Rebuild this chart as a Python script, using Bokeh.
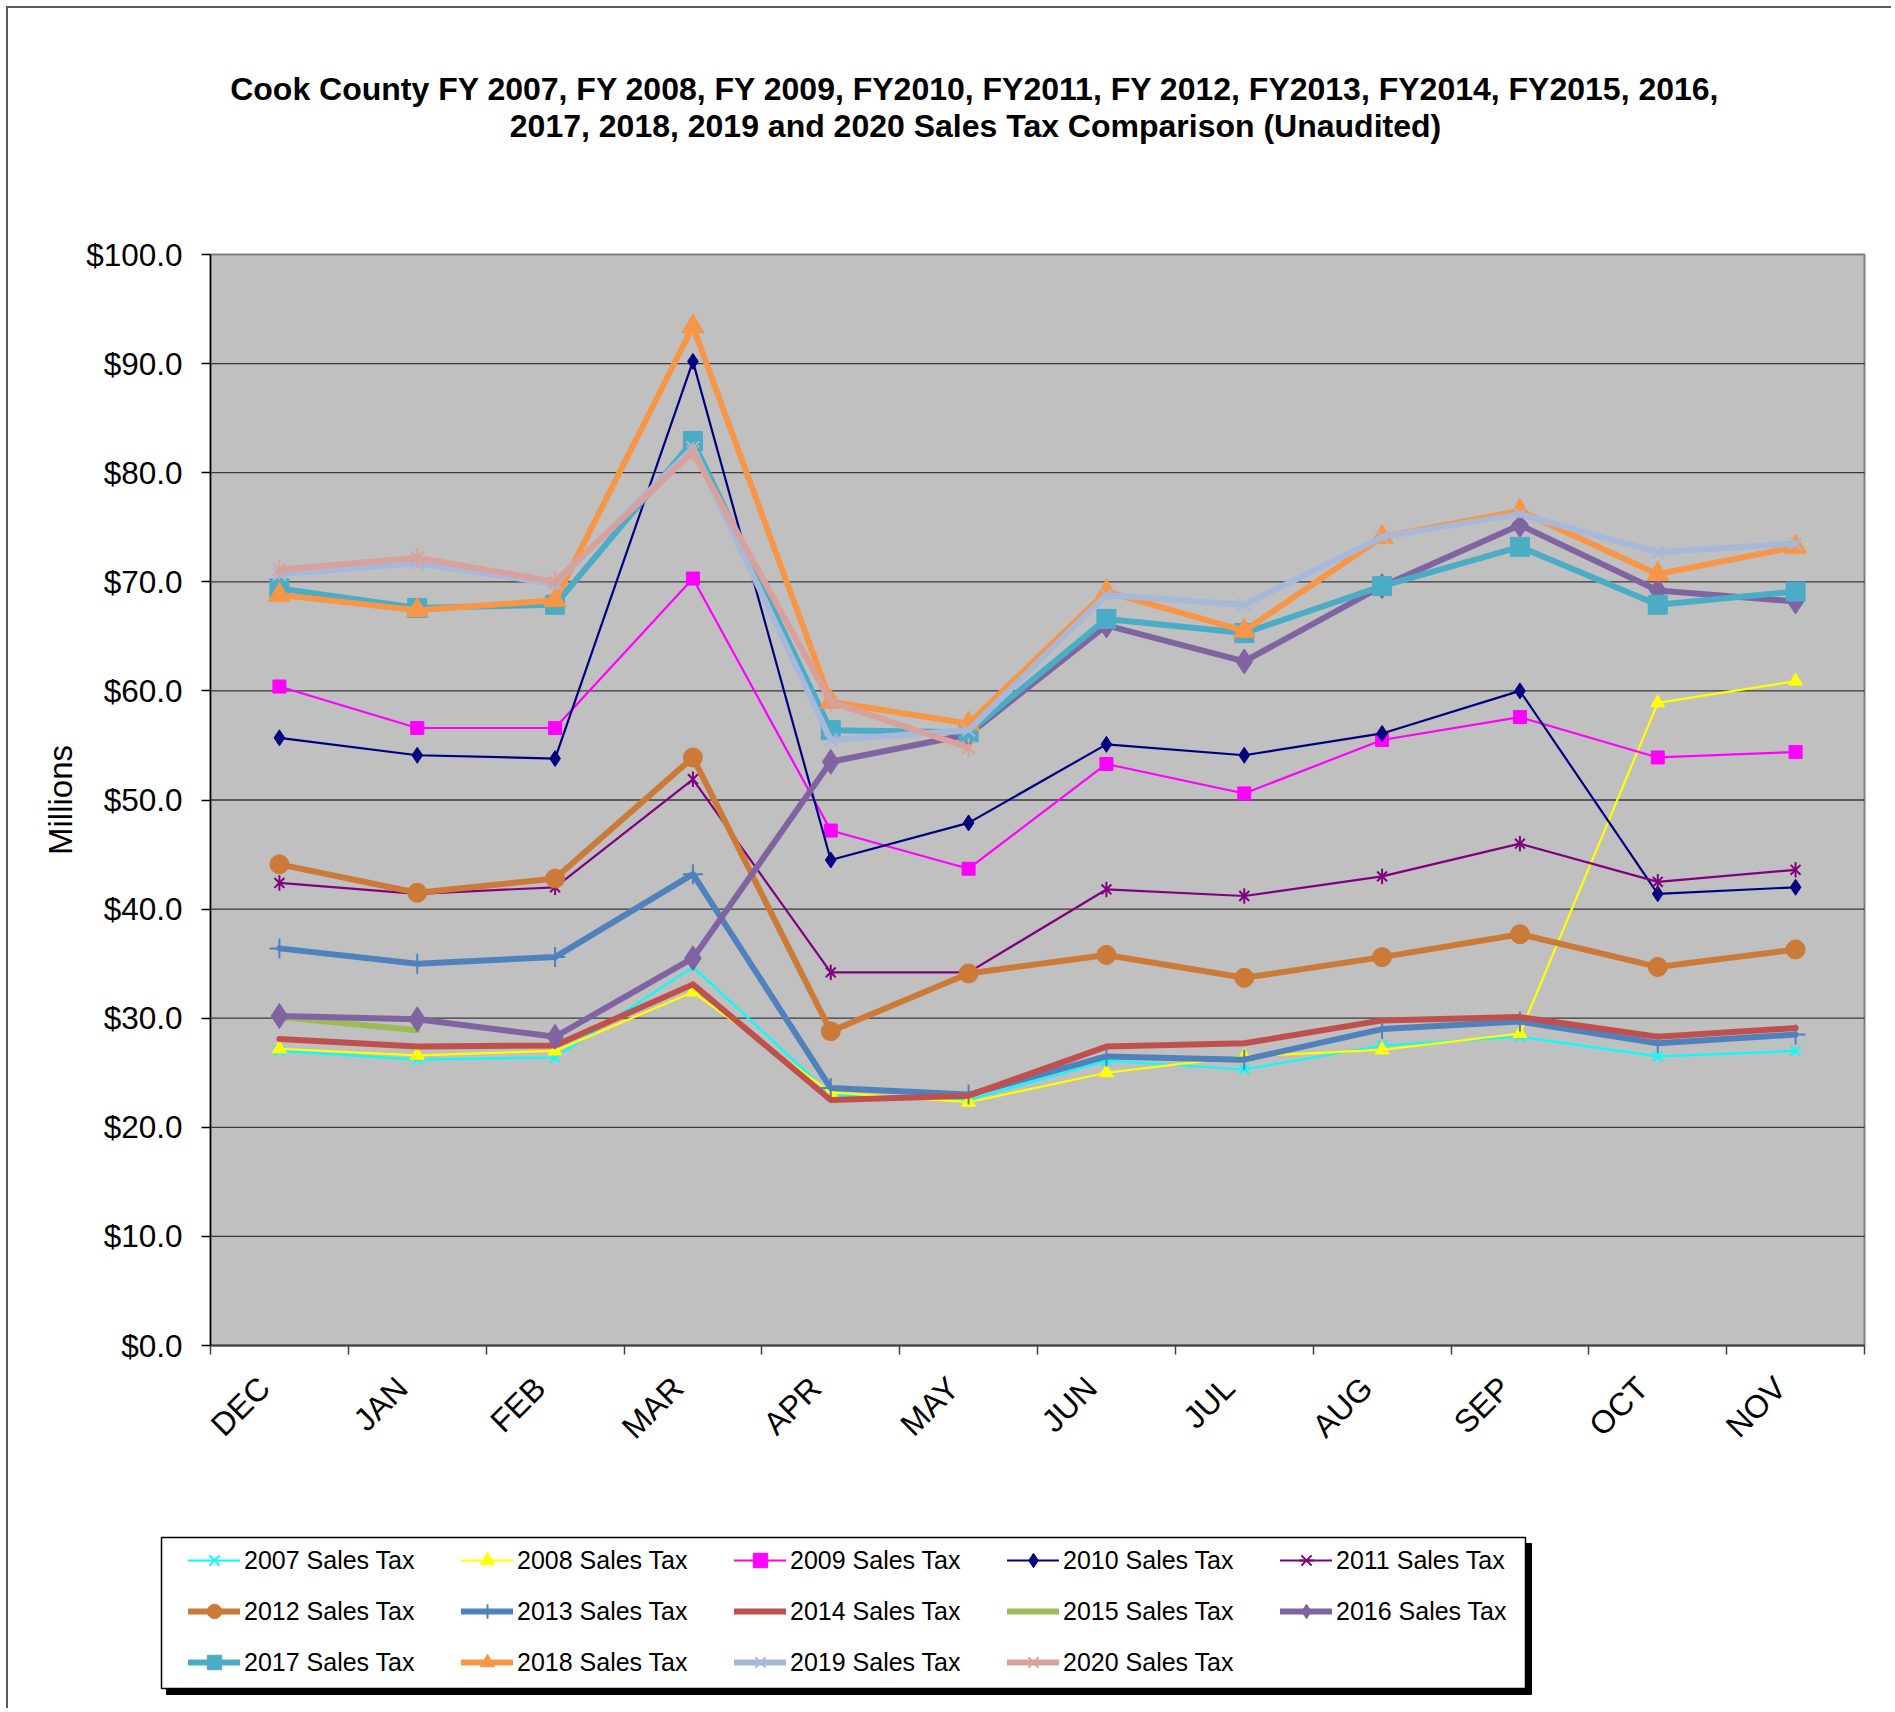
import math
from bokeh.plotting import figure
from bokeh.models import (Range1d, FixedTicker, NumeralTickFormatter, Legend, LegendItem,
                          Label, BoxAnnotation, LinearAxis)
from bokeh.embed import file_html
from bokeh.resources import INLINE

nan = float("nan")

months = ["DEC", "JAN", "FEB", "MAR", "APR", "MAY", "JUN", "JUL", "AUG", "SEP", "OCT", "NOV"]

tax_2007 = [27.0, 26.2, 26.4, 34.7, 23.0, 22.5, 26.1, 25.3, 27.5, 28.3, 26.5, 27.0]
tax_2008 = [27.2, 26.6, 27.0, 32.4, 23.2, 22.3, 25.0, 26.5, 27.1, 28.6, 58.9, 60.9]
tax_2009 = [60.4, 56.6, 56.6, 70.3, 47.2, 43.7, 53.3, 50.6, 55.5, 57.6, 53.9, 54.4]
tax_2010 = [55.7, 54.1, 53.8, 90.2, 44.5, 47.9, 55.1, 54.1, 56.1, 60.0, 41.4, 42.0]
tax_2011 = [42.4, 41.4, 42.0, 51.9, 34.2, 34.2, 41.8, 41.2, 43.0, 46.0, 42.5, 43.6]
tax_2012 = [44.1, 41.5, 42.8, 53.9, 28.8, 34.1, 35.8, 33.7, 35.6, 37.7, 34.7, 36.3]
tax_2013 = [36.4, 35.0, 35.6, 43.2, 23.6, 23.0, 26.5, 26.2, 29.0, 29.7, 27.7, 28.5]
tax_2014 = [28.1, 27.4, 27.5, 33.1, 22.5, 22.9, 27.4, 27.7, 29.8, 30.1, 28.3, 29.1]
tax_2015 = [30.1, 28.9, nan, nan, nan, nan, nan, nan, nan, nan, nan, nan]
tax_2016 = [30.2, 29.9, 28.3, 35.5, 53.5, 56.0, 66.0, 62.7, 69.6, 75.2, 69.2, 68.2]
tax_2017 = [69.4, 67.6, 67.9, 82.9, 56.4, 56.2, 66.6, 65.3, 69.6, 73.2, 67.9, 69.1]
tax_2018 = [68.8, 67.4, 68.3, 93.4, 59.0, 57.0, 69.1, 65.5, 74.1, 76.5, 70.7, 73.2]
tax_2019 = [70.7, 71.7, 69.8, 82.3, 55.5, 56.4, 68.8, 67.9, 74.1, 76.2, 72.7, 73.5]
tax_2020 = [71.1, 72.2, 70.0, 81.9, 59.0, 54.8, nan, nan, nan, nan, nan, nan]

y_ticks = [0, 10, 20, 30, 40, 50, 60, 70, 80, 90, 100]

title_lines = ["Cook County FY 2007, FY 2008, FY 2009, FY2010, FY2011, FY 2012, FY2013, FY2014, FY2015, 2016,",
               "2017, 2018, 2019 and 2020 Sales Tax Comparison (Unaudited)"]

# name, values, color, line width, marker, marker size
series = [
    ("2007 Sales Tax", tax_2007, "#00FFFF", 2.2, "x", 14),
    ("2008 Sales Tax", tax_2008, "#FFFF00", 2.2, "triangle", 14),
    ("2009 Sales Tax", tax_2009, "#FF00FF", 2.2, "square", 13),
    ("2010 Sales Tax", tax_2010, "#000080", 2.2, "diamond", 16),
    ("2011 Sales Tax", tax_2011, "#800080", 2.2, "star6", 14),
    ("2012 Sales Tax", tax_2012, "#CB7A37", 6, "circle", 19),
    ("2013 Sales Tax", tax_2013, "#4F81BD", 6, "cross", 20),
    ("2014 Sales Tax", tax_2014, "#C0504D", 6, None, 0),
    ("2015 Sales Tax", tax_2015, "#9BBB59", 6, None, 0),
    ("2016 Sales Tax", tax_2016, "#8064A2", 6, "diamond", 25),
    ("2017 Sales Tax", tax_2017, "#4BACC6", 6, "square", 19),
    ("2018 Sales Tax", tax_2018, "#F79646", 6, "triangle", 22),
    ("2019 Sales Tax", tax_2019, "#A7B8D9", 6, "x", 18),
    ("2020 Sales Tax", tax_2020, "#D9A19C", 6, "star6", 18),
]

FONT = "Liberation Sans"
# canvas size and plot-area placement (pixels inside the canvas)
W, H = 1885, 1702
PL, PR, PT, PB = 202, 1856, 246, 1337   # plot area left/right/top/bottom

xs = list(range(len(months)))
x_lo, x_hi = -0.5, len(months) - 0.5
y_lo, y_hi = 0, 100
xpp = (PR - PL) / (x_hi - x_lo)
ypp = (PB - PT) / (y_hi - y_lo)
x_range = Range1d(x_lo - PL / xpp, x_hi + (W - PR) / xpp)
y_range = Range1d(y_lo - (H - PB) / ypp, y_hi + PT / ypp)

p = figure(width=W, height=H, x_range=x_range, y_range=y_range,
           output_backend="svg", toolbar_location=None,
           x_axis_location=None, y_axis_location=None,
           min_border_left=0, min_border_right=0, min_border_top=0, min_border_bottom=0)
p.styles = {"margin-left": "6px", "margin-top": "6px",
            "border-left": "2px solid #5a5a5a", "border-top": "2px solid #5a5a5a"}
p.grid.visible = False
p.outline_line_color = None
p.background_fill_color = "white"
p.border_fill_color = "white"

# plot area
p.add_layout(BoxAnnotation(left=x_lo, right=x_hi, bottom=y_lo, top=y_hi, level="underlay",
                           fill_color="#C0C0C0", fill_alpha=1,
                           line_color="#808080", line_alpha=1, line_width=2))
grid_vals = y_ticks[1:-1]
p.segment(x0=[x_lo] * len(grid_vals), x1=[x_hi] * len(grid_vals), y0=grid_vals, y1=grid_vals,
          line_color="#3a3a3a", line_width=1.3)

# y axis
yaxis = LinearAxis(fixed_location=x_lo, bounds=(y_lo, y_hi))
yaxis.ticker = FixedTicker(ticks=y_ticks)
yaxis.formatter = NumeralTickFormatter(format="$0.0")
yaxis.minor_tick_line_color = None
yaxis.major_tick_out = 9
yaxis.major_tick_in = 0
yaxis.major_tick_line_color = "black"
yaxis.major_tick_line_width = 1.5
yaxis.axis_line_color = "black"
yaxis.axis_line_width = 1.5
yaxis.major_label_text_font = FONT
yaxis.major_label_text_font_size = "31.5px"
yaxis.major_label_text_color = "black"
yaxis.major_label_standoff = 19
yaxis.axis_label = "Millions"
yaxis.axis_label_text_font = FONT
yaxis.axis_label_text_font_size = "33px"
yaxis.axis_label_text_font_style = "normal"
yaxis.axis_label_text_color = "black"
yaxis.axis_label_standoff = 4
p.add_layout(yaxis, "left")

# x axis
label_shift = 0.11  # month labels sit slightly left of the category centre, as in the original
label_pos = [x - label_shift for x in xs]
xaxis = LinearAxis(fixed_location=y_lo, bounds=(x_lo, x_hi))
xaxis.ticker = FixedTicker(ticks=label_pos, minor_ticks=[x - 0.5 for x in xs] + [x_hi])
xaxis.major_label_overrides = {pos: m for pos, m in zip(label_pos, months)}
xaxis.major_tick_out = 0
xaxis.major_tick_in = 0
xaxis.minor_tick_out = 9
xaxis.minor_tick_in = 0
xaxis.minor_tick_line_color = "#404040"
xaxis.minor_tick_line_width = 1.5
xaxis.axis_line_color = "#404040"
xaxis.axis_line_width = 2
xaxis.major_label_orientation = math.pi / 4
xaxis.major_label_text_align = "right"
xaxis.major_label_text_baseline = "bottom"
xaxis.major_label_text_font = FONT
xaxis.major_label_text_font_size = "32px"
xaxis.major_label_text_color = "black"
xaxis.major_label_standoff = 28
p.add_layout(xaxis, "below")

# series
items = []
for name, vals, color, lw, marker, msize in series:
    rs = [p.line(xs, vals, line_color=color, line_width=lw, line_join="round", line_cap="round")]
    if marker == "star6":
        rs.append(p.scatter(xs, vals, marker="x", size=msize, line_color=color, line_width=2))
        rs.append(p.scatter(xs, vals, marker="dash", angle=math.pi / 2, size=msize * 1.1,
                            line_color=color, line_width=2))
    elif marker in ("x", "cross"):
        rs.append(p.scatter(xs, vals, marker=marker, size=msize, line_color=color, line_width=2))
    elif marker:
        rs.append(p.scatter(xs, vals, marker=marker, size=msize, fill_color=color, line_color=color))
    items.append(LegendItem(label=name, renderers=rs))

# title (screen units: from canvas left / canvas bottom)
for i, t in enumerate(title_lines):
    p.add_layout(Label(x=967, y=H - 80 - 37 * i, x_units="screen", y_units="screen", text=t,
                       text_align="center", text_baseline="middle", text_font=FONT,
                       text_font_size="32px", text_font_style="bold", text_color="black"))

# legend frame with shadow
p.add_layout(BoxAnnotation(left=158, right=1523, top=167, bottom=16,
                           left_units="screen", right_units="screen", top_units="screen",
                           bottom_units="screen", fill_color="black", fill_alpha=1,
                           line_color="black", line_alpha=1))
p.add_layout(BoxAnnotation(left=153, right=1517, top=173, bottom=22,
                           left_units="screen", right_units="screen", top_units="screen",
                           bottom_units="screen", fill_color="white", fill_alpha=1,
                           line_color="black", line_alpha=1, line_width=1.5))
for j in range(5):
    col_items = items[j::5]
    n = len(col_items)
    y_bottom = H - (1532 + 40 * n + 11 * (n - 1))
    leg = Legend(items=col_items, orientation="vertical",
                 location=(180 + 273 * j, y_bottom),
                 padding=0, margin=0, spacing=11, glyph_width=52, glyph_height=36,
                 label_height=40, label_standoff=4, label_text_font=FONT,
                 label_text_font_size="25px", label_text_color="black",
                 background_fill_alpha=0, border_line_alpha=0)
    p.add_layout(leg, "center")

open("out.html", "w").write(file_html(p, INLINE))
